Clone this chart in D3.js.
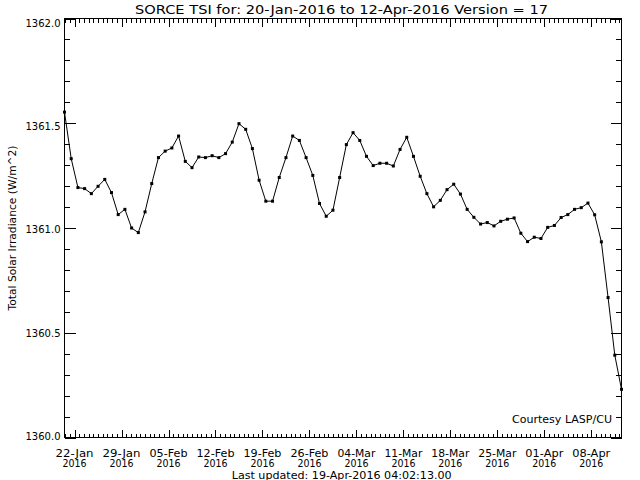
<!DOCTYPE html>
<html><head><meta charset="utf-8">
<script src="https://cdn.jsdelivr.net/npm/d3@7"></script>
<style>
body{margin:0;background:#fff}
svg{display:block}
text{font-family:"DejaVu Sans",sans-serif;fill:#000}
</style>
</head><body>
<svg id="c" width="640" height="480"></svg>
<script>
// ---------- data ----------
const titleText = "SORCE TSI for: 20-Jan-2016 to 12-Apr-2016 Version = 17";
const yAxisTitle = "Total Solar Irradiance (W/m^2)";
const footerText = "Last updated: 19-Apr-2016 04:02:13.00";
const creditText = "Courtesy LASP/CU";
const domainStart = "2016-01-20T12:00:00Z";
const domainEnd = "2016-04-12T12:00:00Z";
// daily TSI values, 20-Jan-2016 .. 12-Apr-2016
const tsiValues = [
  1361.553, 1361.331, 1361.193, 1361.188, 1361.164, 1361.199, 1361.232, 1361.169, 1361.064, 1361.089,
  1361.000, 1360.978, 1361.077, 1361.212, 1361.336, 1361.367, 1361.382, 1361.439, 1361.318, 1361.288,
  1361.339, 1361.336, 1361.345, 1361.336, 1361.355, 1361.410, 1361.498, 1361.471, 1361.379, 1361.228,
  1361.128, 1361.128, 1361.241, 1361.336, 1361.439, 1361.418, 1361.336, 1361.251, 1361.117, 1361.056,
  1361.085, 1361.241, 1361.398, 1361.455, 1361.418, 1361.342, 1361.298, 1361.309, 1361.309, 1361.296,
  1361.375, 1361.433, 1361.342, 1361.247, 1361.164, 1361.101, 1361.132, 1361.183, 1361.209, 1361.162,
  1361.089, 1361.051, 1361.019, 1361.026, 1361.010, 1361.032, 1361.042, 1361.048, 1360.975, 1360.935,
  1360.956, 1360.950, 1361.003, 1361.012, 1361.050, 1361.064, 1361.089, 1361.097, 1361.119, 1361.063,
  1360.934, 1360.668, 1360.393, 1360.230
];
const xTickDates = ["2016-01-22","2016-01-29","2016-02-05","2016-02-12","2016-02-19","2016-02-26",
  "2016-03-04","2016-03-11","2016-03-18","2016-03-25","2016-04-01","2016-04-08"];
const xTickLabels = ["22-Jan","29-Jan","05-Feb","12-Feb","19-Feb","26-Feb",
  "04-Mar","11-Mar","18-Mar","25-Mar","01-Apr","08-Apr"];
const xTickYear = "2016";
const yTickValues = [1360.0, 1360.5, 1361.0, 1361.5, 1362.0];
const yTickLabels = ["1360.0","1360.5","1361.0","1361.5","1362.0"];
const yDomain = [1360.0, 1362.0];

// ---------- layout ----------
const L = 64.5, R = 621.5, T = 18.5, B = 437.5;
const svg = d3.select("#c");

const x = d3.scaleUtc().domain([new Date(domainStart), new Date(domainEnd)]).range([L, R]);
const y = d3.scaleLinear().domain(yDomain).range([B, T]);

const t0 = new Date(domainStart);
const points = tsiValues.map((v, i) => ({date: d3.utcDay.offset(t0, i), v}));

// ticks
const DAY = 864e5;
const majorDates = xTickDates.map(s => new Date(s + "T00:00:00Z"));
const minorStep = 0.7 * DAY;
const xMinor = [];
for (let t = majorDates[0].getTime(); t >= x.domain()[0].getTime(); t -= minorStep) xMinor.push(new Date(t));
for (let t = majorDates[0].getTime() + minorStep; t <= x.domain()[1].getTime() + 1; t += minorStep) xMinor.push(new Date(t));
const xMinorOnly = xMinor.filter(d => !majorDates.some(m => Math.abs(m - d) < 3600e3));
const yMinor = d3.range(1360.0, 1362.001, 0.1).map(v => +v.toFixed(1)).filter(v => !yTickValues.includes(v));

function styleAxis(g) {
  g.select(".domain").remove();
  g.selectAll("text").remove();
  g.selectAll("line").attr("stroke", "#000").attr("shape-rendering", "crispEdges");
}
// bottom
svg.append("g").attr("transform", `translate(0,${B})`)
  .call(d3.axisTop(x).tickValues(majorDates).tickSize(8)).call(styleAxis);
svg.append("g").attr("transform", `translate(0,${B})`)
  .call(d3.axisTop(x).tickValues(xMinorOnly).tickSize(4)).call(styleAxis);
// top
svg.append("g").attr("transform", `translate(0,${T})`)
  .call(d3.axisBottom(x).tickValues(majorDates).tickSize(8)).call(styleAxis);
svg.append("g").attr("transform", `translate(0,${T})`)
  .call(d3.axisBottom(x).tickValues(xMinorOnly).tickSize(4)).call(styleAxis);
// left
svg.append("g").attr("transform", `translate(${L},0)`)
  .call(d3.axisRight(y).tickValues(yTickValues).tickSize(11)).call(styleAxis);
svg.append("g").attr("transform", `translate(${L},0)`)
  .call(d3.axisRight(y).tickValues(yMinor).tickSize(5.5)).call(styleAxis);
// right
svg.append("g").attr("transform", `translate(${R},0)`)
  .call(d3.axisLeft(y).tickValues(yTickValues).tickSize(11)).call(styleAxis);
svg.append("g").attr("transform", `translate(${R},0)`)
  .call(d3.axisLeft(y).tickValues(yMinor).tickSize(5.5)).call(styleAxis);

// frame
svg.append("rect").attr("x", L).attr("y", T).attr("width", R - L).attr("height", B - T)
  .attr("fill", "none").attr("stroke", "#000").attr("shape-rendering", "crispEdges");

// y tick labels (IDL places them slightly compressed)
const yLab = d3.scaleLinear().domain(yDomain).range([440.2, 26.5]);
svg.append("g").selectAll("text").data(yTickValues).join("text")
  .attr("x", 60.5).attr("y", d => yLab(d)).attr("text-anchor", "end")
  .attr("font-size", 10).attr("textLength", 35).attr("lengthAdjust", "spacingAndGlyphs")
  .text((d, i) => yTickLabels[i]);

// x tick labels
const xl = svg.append("g");
xl.selectAll("text.l1").data(majorDates).join("text").attr("class", "l1")
  .attr("x", d => x(d)).attr("y", 457).attr("text-anchor", "middle")
  .attr("font-size", 10).attr("textLength", 38).attr("lengthAdjust", "spacingAndGlyphs")
  .text((d, i) => xTickLabels[i]);
xl.selectAll("text.l2").data(majorDates).join("text").attr("class", "l2")
  .attr("x", d => x(d)).attr("y", 466.5).attr("text-anchor", "middle")
  .attr("font-size", 10).attr("textLength", 24).attr("lengthAdjust", "spacingAndGlyphs")
  .text(xTickYear);

// data line + markers
svg.append("path").datum(points)
  .attr("d", d3.line().x(d => x(d.date)).y(d => y(d.v)))
  .attr("fill", "none").attr("stroke", "#000").attr("stroke-width", 1);
svg.append("g").selectAll("rect").data(points).join("rect")
  .attr("x", d => x(d.date) - 1.5).attr("y", d => y(d.v) - 1.5)
  .attr("width", 3).attr("height", 3).attr("fill", "#000");

// texts
svg.append("text").attr("x", 341.5).attr("y", 14).attr("text-anchor", "middle")
  .attr("font-size", 12.5).attr("textLength", 413).attr("lengthAdjust", "spacingAndGlyphs")
  .text(titleText);
svg.append("text").attr("x", 341.7).attr("y", 478.5).attr("text-anchor", "middle")
  .attr("font-size", 10).attr("textLength", 220).attr("lengthAdjust", "spacingAndGlyphs")
  .text(footerText);
svg.append("text").attr("x", 612).attr("y", 422.5).attr("text-anchor", "end")
  .attr("font-size", 10).attr("textLength", 100).attr("lengthAdjust", "spacingAndGlyphs")
  .text(creditText);
svg.append("text").attr("transform", `translate(15.5,${(T + B) / 2}) rotate(-90)`)
  .attr("text-anchor", "middle")
  .attr("font-size", 10.5).attr("textLength", 165).attr("lengthAdjust", "spacingAndGlyphs")
  .text(yAxisTitle);
</script>
</body></html>
